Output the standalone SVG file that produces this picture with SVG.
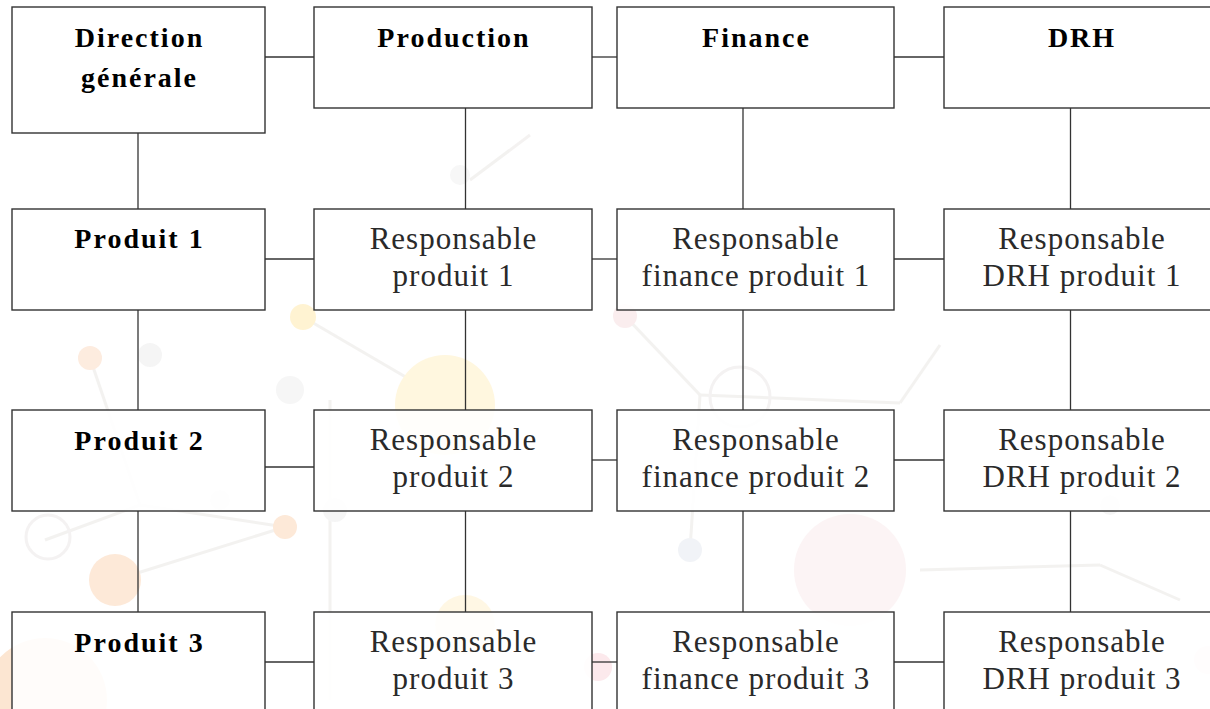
<svg xmlns="http://www.w3.org/2000/svg" width="1210" height="709" viewBox="0 0 1210 709">
<style>
.box{fill:#ffffff;fill-opacity:0.88;stroke:#333;stroke-width:1.4}
.con{stroke:#333;stroke-width:1.3;fill:none}
.hd{font-family:"Liberation Serif","DejaVu Serif","Times New Roman",serif;font-weight:bold;font-size:28px;letter-spacing:2px;fill:#000;text-anchor:middle}
.rs{font-family:"Liberation Serif","DejaVu Serif","Times New Roman",serif;font-size:31px;letter-spacing:1px;fill:#2a2a2a;text-anchor:middle}
.bgl{stroke:#efedeb;stroke-width:3;fill:none}
</style>
<rect width="1210" height="709" fill="#ffffff"/>
<g id="background" opacity="0.7">
  <line class="bgl" x1="90" y1="358" x2="140" y2="505"/>
  <line class="bgl" x1="140" y1="505" x2="285" y2="527"/>
  <line class="bgl" x1="140" y1="505" x2="45" y2="540"/>
  <line class="bgl" x1="115" y1="580" x2="285" y2="527"/>
  <line class="bgl" x1="303" y1="317" x2="445" y2="400"/>
  <line class="bgl" x1="625" y1="316" x2="700" y2="395"/>
  <line class="bgl" x1="700" y1="395" x2="690" y2="550"/>
  <line class="bgl" x1="700" y1="395" x2="900" y2="403"/>
  <line class="bgl" x1="900" y1="403" x2="940" y2="345"/>
  <line class="bgl" x1="920" y1="570" x2="1100" y2="565"/>
  <line class="bgl" x1="1100" y1="565" x2="1180" y2="600"/>
  <line class="bgl" x1="470" y1="180" x2="530" y2="135"/>
  <line class="bgl" x1="330" y1="400" x2="330" y2="700"/>
  <circle cx="45" cy="700" r="62" fill="#fcdcbf"/>
  <circle cx="115" cy="580" r="26" fill="#fde0c8"/>
  <circle cx="285" cy="527" r="12" fill="#fde0c8"/>
  <circle cx="90" cy="358" r="12" fill="#fde4d2"/>
  <circle cx="303" cy="317" r="13" fill="#ffefc0"/>
  <circle cx="445" cy="405" r="50" fill="#fff4d2"/>
  <circle cx="465" cy="625" r="30" fill="#fff5da"/>
  <circle cx="850" cy="570" r="56" fill="#fcf0f1"/>
  <circle cx="625" cy="316" r="12" fill="#f8e6e8"/>
  <circle cx="690" cy="550" r="12" fill="#eceff4"/>
  <circle cx="598" cy="667" r="14" fill="#fbe0e5"/>
  <circle cx="1208" cy="660" r="14" fill="#fbe0e5"/>
  <circle cx="740" cy="397" r="30" fill="none" stroke="#f0eded" stroke-width="3"/>
  <circle cx="48" cy="537" r="22" fill="none" stroke="#f0eded" stroke-width="3"/>
  <circle cx="150" cy="355" r="12" fill="#f2f2f2"/>
  <circle cx="220" cy="500" r="10" fill="#f2f2f2"/>
  <circle cx="335" cy="510" r="12" fill="#f2f2f2"/>
  <circle cx="290" cy="390" r="14" fill="#f3f3f3"/>
  <circle cx="1110" cy="505" r="10" fill="#f2f2f2"/>
  <circle cx="460" cy="175" r="10" fill="#f4f4f4"/>
</g>
<g id="connectors">
  <line class="con" x1="265" y1="57" x2="314" y2="57"/>
  <line class="con" x1="592" y1="57" x2="617" y2="57"/>
  <line class="con" x1="894" y1="57" x2="944" y2="57"/>
  <line class="con" x1="265" y1="259" x2="314" y2="259"/>
  <line class="con" x1="592" y1="259" x2="617" y2="259"/>
  <line class="con" x1="894" y1="259" x2="944" y2="259"/>
  <line class="con" x1="265" y1="467" x2="314" y2="467"/>
  <line class="con" x1="592" y1="460" x2="617" y2="460"/>
  <line class="con" x1="894" y1="460" x2="944" y2="460"/>
  <line class="con" x1="265" y1="662" x2="314" y2="662"/>
  <line class="con" x1="592" y1="662" x2="617" y2="662"/>
  <line class="con" x1="894" y1="662" x2="944" y2="662"/>
  <line class="con" x1="138" y1="133" x2="138" y2="209"/>
  <line class="con" x1="138" y1="310" x2="138" y2="410"/>
  <line class="con" x1="138" y1="511" x2="138" y2="612"/>
  <line class="con" x1="465.5" y1="108" x2="465.5" y2="209"/>
  <line class="con" x1="465.5" y1="310" x2="465.5" y2="410"/>
  <line class="con" x1="465.5" y1="511" x2="465.5" y2="612"/>
  <line class="con" x1="743" y1="108" x2="743" y2="209"/>
  <line class="con" x1="743" y1="310" x2="743" y2="410"/>
  <line class="con" x1="743" y1="511" x2="743" y2="612"/>
  <line class="con" x1="1070.5" y1="108" x2="1070.5" y2="209"/>
  <line class="con" x1="1070.5" y1="310" x2="1070.5" y2="410"/>
  <line class="con" x1="1070.5" y1="511" x2="1070.5" y2="612"/>
</g>
<g id="direction-generale">
  <rect class="box" x="12" y="7" width="253" height="126"/>
  <text class="hd" x="139.5" y="47">Direction</text>
  <text class="hd" x="139.5" y="87">générale</text>
</g>
<g id="production">
  <rect class="box" x="314" y="7" width="278" height="101"/>
  <text class="hd" x="454" y="47">Production</text>
</g>
<g id="finance">
  <rect class="box" x="617" y="7" width="277" height="101"/>
  <text class="hd" x="756.5" y="47">Finance</text>
</g>
<g id="drh">
  <rect class="box" x="944" y="7" width="277" height="101"/>
  <text class="hd" x="1082" y="47">DRH</text>
</g>
<g id="produit-1">
  <rect class="box" x="12" y="209" width="253" height="101"/>
  <text class="hd" x="139.5" y="248">Produit 1</text>
</g>
<g id="resp-produit-1">
  <rect class="box" x="314" y="209" width="278" height="101"/>
  <text class="rs" x="453.5" y="249">Responsable</text>
  <text class="rs" x="453.5" y="286">produit 1</text>
</g>
<g id="resp-finance-produit-1">
  <rect class="box" x="617" y="209" width="277" height="101"/>
  <text class="rs" x="756" y="249">Responsable</text>
  <text class="rs" x="756" y="286">finance produit 1</text>
</g>
<g id="resp-drh-produit-1">
  <rect class="box" x="944" y="209" width="277" height="101"/>
  <text class="rs" x="1082" y="249">Responsable</text>
  <text class="rs" x="1082" y="286">DRH produit 1</text>
</g>
<g id="produit-2">
  <rect class="box" x="12" y="410" width="253" height="101"/>
  <text class="hd" x="139.5" y="450">Produit 2</text>
</g>
<g id="resp-produit-2">
  <rect class="box" x="314" y="410" width="278" height="101"/>
  <text class="rs" x="453.5" y="450">Responsable</text>
  <text class="rs" x="453.5" y="487">produit 2</text>
</g>
<g id="resp-finance-produit-2">
  <rect class="box" x="617" y="410" width="277" height="101"/>
  <text class="rs" x="756" y="450">Responsable</text>
  <text class="rs" x="756" y="487">finance produit 2</text>
</g>
<g id="resp-drh-produit-2">
  <rect class="box" x="944" y="410" width="277" height="101"/>
  <text class="rs" x="1082" y="450">Responsable</text>
  <text class="rs" x="1082" y="487">DRH produit 2</text>
</g>
<g id="produit-3">
  <rect class="box" x="12" y="612" width="253" height="110"/>
  <text class="hd" x="139.5" y="652">Produit 3</text>
</g>
<g id="resp-produit-3">
  <rect class="box" x="314" y="612" width="278" height="110"/>
  <text class="rs" x="453.5" y="652">Responsable</text>
  <text class="rs" x="453.5" y="689">produit 3</text>
</g>
<g id="resp-finance-produit-3">
  <rect class="box" x="617" y="612" width="277" height="110"/>
  <text class="rs" x="756" y="652">Responsable</text>
  <text class="rs" x="756" y="689">finance produit 3</text>
</g>
<g id="resp-drh-produit-3">
  <rect class="box" x="944" y="612" width="277" height="110"/>
  <text class="rs" x="1082" y="652">Responsable</text>
  <text class="rs" x="1082" y="689">DRH produit 3</text>
</g>
</svg>
